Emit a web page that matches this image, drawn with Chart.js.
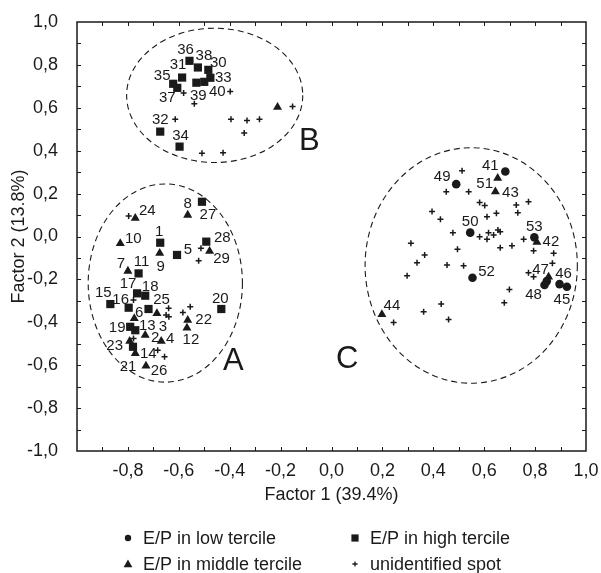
<!DOCTYPE html>
<html>
<head>
<meta charset="utf-8">
<title>Factor analysis</title>
<script src="https://cdn.jsdelivr.net/npm/chart.js@4.4.1/dist/chart.umd.min.js"></script>
<style>
  html, body { margin: 0; padding: 0; background: #fff; }
  canvas { display: block; }
</style>
</head>
<body>
<canvas id="factorChart" width="601" height="573"></canvas>
<script>
// --- data (factor loadings) ---
var lowX   = [0.683, 0.925, 0.896, 0.837, 0.490, 0.545, 0.554, 0.797, 0.846];
var lowY   = [0.303, -0.234, -0.222, -0.226, 0.244, 0.018, -0.192, -0.004, -0.208];
var lowNum = ['41', '45', '46', '48', '49', '50', '52', '53', ''];

var midX   = [-0.732, -0.686, -0.669, -0.775, -0.800, -0.565, -0.675, -0.830, -0.568, -0.771,
              -0.565, -0.793, -0.771, -0.729, -0.479, -0.212, 0.807, 0.644, 0.198, 0.853, 0.653];
var midY   = [-0.460, -0.359, -0.488, -0.382, -0.161, 0.100, -0.078, -0.032, -0.426, -0.545,
              -0.390, -0.488, 0.085, -0.603, -0.068, 0.603, -0.026, 0.209, -0.363, -0.188, 0.272];
var midNum = ['2', '3', '4', '6', '7', '8', '9', '10', '12', '14',
              '22', '23', '24', '26', '29', '', '42', '43', '44', '47', '51'];

var highX   = [-0.673, -0.607, -0.758, -0.771, -0.869, -0.797, -0.764, -0.732, -0.791, -0.433,
               -0.780, -0.719, -0.509, -0.492, -0.484, -0.587, -0.673, -0.476, -0.597, -0.622,
               -0.558, -0.606, -0.525, -0.531, -0.500];
var highY   = [-0.029, -0.086, -0.172, -0.437, -0.315, -0.332, -0.265, -0.276, -0.421, -0.338,
               -0.514, -0.338, 0.162, -0.024, 0.777, 0.741, 0.489, 0.740, 0.419, 0.712,
               0.819, 0.693, 0.788, 0.717, 0.721];
var highNum = ['1', '5', '11', '13', '15', '16', '17', '18', '19', '20',
               '21', '25', '27', '28', '30', '31', '32', '33', '34', '35',
               '36', '37', '38', '39', '40'];

var spotX = [-0.797, -0.513, -0.522, -0.778, -0.640, -0.650, -0.639, -0.555, -0.584, -0.778, -0.683, -0.656,
             -0.581, -0.539, -0.398, -0.614, -0.395, -0.332, -0.283, -0.343, -0.509, -0.426, -0.153,
             0.513, 0.451, 0.539, 0.582, 0.602, 0.726, 0.774, 0.732, 0.395, 0.428,
             0.611, 0.648, 0.477, 0.582, 0.617, 0.611, 0.637, 0.654, 0.663, 0.755,
             0.312, 0.495, 0.663, 0.709, 0.794, 0.873, 0.366, 0.336, 0.454, 0.519,
             0.868, 0.297, 0.774, 0.794, 0.699, 0.679, 0.431, 0.362, 0.460, 0.244];
var spotY = [0.096, -0.055, -0.113, -0.296, -0.335, -0.366, -0.374, -0.328, -0.354, -0.475, -0.530, -0.561,
             0.669, 0.619, 0.676, 0.547, 0.547, 0.541, 0.547, 0.482, 0.388, 0.391, 0.606,
             0.307, 0.209, 0.209, 0.158, 0.144, 0.147, 0.162, 0.111, 0.116, 0.080,
             0.092, 0.108, 0.018, -0.001, 0.018, -0.013, 0.007, 0.030, 0.022, -0.013,
             -0.032, -0.060, -0.052, -0.043, -0.066, -0.078, -0.086, -0.122, -0.133, -0.136,
             -0.125, -0.183, -0.169, -0.188, -0.247, -0.309, -0.315, -0.351, -0.387, -0.401];

var xTicks = ['-0,8', '-0,6', '-0,4', '-0,2', '0,0', '0,2', '0,4', '0,6', '0,8', '1,0'];

// cluster outlines (data units)
var groupNames = ['A', 'B', 'C'];
var groupCX = [-0.653, -0.459, 0.549];
var groupCY = [-0.217, 0.658, -0.135];
var groupRX = [0.303, 0.346, 0.417];
var groupRY = [0.462, 0.313, 0.549];
var groupLabelX = [-0.386, -0.087, 0.062];
var groupLabelY = [-0.577, 0.446, -0.567];

// where each number sits relative to its marker, in pixels
var labelOffsets = {
  '1': [-1, -12], '2': [10, 2], '3': [6, 12], '4': [9, -3], '5': [11, -6],
  '6': [5, -7], '7': [-7, -8], '8': [0, -12], '9': [1, 13], '10': [13, -6],
  '11': [3, -13], '12': [4, 11], '13': [12, -5], '14': [13, -1], '15': [-7, -12],
  '16': [-8, -9], '17': [-9, -10], '18': [5, -10], '19': [-13, 0], '20': [-1, -11],
  '21': [-5, 19], '22': [16, -1], '23': [-15, 4], '24': [12, -8], '25': [13, -10],
  '26': [13, 4], '27': [6, 12], '28': [16, -5], '29': [12, 7],
  '30': [10, -8], '31': [-4, -14], '32': [0, -13], '33': [13, -1], '34': [1, -12],
  '35': [-11, -9], '36': [-4, -12], '37': [-10, 9], '38': [6, -13], '39': [2, 12], '40': [13, 9],
  '41': [-15, -7], '42': [14, -1], '43': [15, 0], '44': [10, -10], '45': [-5, 12],
  '46': [4, -11], '47': [-8, -8], '48': [-11, 9], '49': [-14, -8], '50': [0, -12],
  '51': [-13, 5], '52': [14, -7], '53': [0, -11]
};

var FONT = '"Liberation Sans", Arial, Helvetica, sans-serif';
var INK = '#1a1a1a';

function toPoints(xs, ys) {
  var out = [];
  for (var i = 0; i < xs.length; i++) out.push({ x: xs[i], y: ys[i] });
  return out;
}

function fmt(v) {
  if (Math.abs(v) < 1e-9) v = 0;
  return v.toFixed(1).replace('.', ',');
}

function drawMarker(ctx, style, x, y, r) {
  ctx.beginPath();
  if (style === 'circle') {
    ctx.arc(x, y, r, 0, Math.PI * 2);
    ctx.fill();
  } else if (style === 'rect') {
    ctx.fillRect(x - r, y - r, 2 * r, 2 * r);
  } else if (style === 'triangle') {
    ctx.moveTo(x, y - r);
    ctx.lineTo(x + r * 0.95, y + r * 0.7);
    ctx.lineTo(x - r * 0.95, y + r * 0.7);
    ctx.closePath();
    ctx.fill();
  } else {
    ctx.moveTo(x - r, y); ctx.lineTo(x + r, y);
    ctx.moveTo(x, y - r); ctx.lineTo(x, y + r);
    ctx.stroke();
  }
}

// dashed ellipses + A/B/C letters
var groupPlugin = {
  id: 'groups',
  beforeDatasetsDraw: function(chart) {
    var ctx = chart.ctx, xs = chart.scales.x, ys = chart.scales.y;
    ctx.save();
    ctx.strokeStyle = INK;
    ctx.lineWidth = 1.1;
    ctx.setLineDash([6, 4]);
    for (var i = 0; i < groupNames.length; i++) {
      var cx = xs.getPixelForValue(groupCX[i]);
      var cy = ys.getPixelForValue(groupCY[i]);
      var rx = xs.getPixelForValue(groupCX[i] + groupRX[i]) - cx;
      var ry = ys.getPixelForValue(groupCY[i] - groupRY[i]) - cy;
      ctx.beginPath();
      ctx.ellipse(cx, cy, rx, ry, 0, 0, Math.PI * 2);
      ctx.stroke();
    }
    ctx.setLineDash([]);
    ctx.fillStyle = INK;
    ctx.font = '31px ' + FONT;
    ctx.textAlign = 'center';
    ctx.textBaseline = 'middle';
    for (var j = 0; j < groupNames.length; j++) {
      ctx.fillText(groupNames[j], xs.getPixelForValue(groupLabelX[j]), ys.getPixelForValue(groupLabelY[j]) + 1);
    }
    ctx.restore();
  }
};

// numbers next to the markers
var numberPlugin = {
  id: 'numbers',
  afterDatasetsDraw: function(chart) {
    var ctx = chart.ctx;
    ctx.save();
    ctx.font = '15px ' + FONT;
    ctx.fillStyle = INK;
    ctx.textAlign = 'center';
    ctx.textBaseline = 'middle';
    chart.data.datasets.forEach(function(ds, i) {
      var meta = chart.getDatasetMeta(i);
      (ds.nums || []).forEach(function(n, j) {
        if (!n) return;
        var off = labelOffsets[n] || [10, -8];
        var pt = meta.data[j];
        ctx.fillText(n, pt.x + off[0], pt.y + off[1] + 1);
      });
    });
    ctx.restore();
  }
};

// box with inward ticks every 0.1 + the legend underneath
var framePlugin = {
  id: 'frame',
  afterDraw: function(chart) {
    var a = chart.chartArea, xs = chart.scales.x, ys = chart.scales.y, ctx = chart.ctx;
    ctx.save();
    ctx.strokeStyle = INK;
    ctx.lineWidth = 1;
    ctx.beginPath();
    for (var k = -9; k <= 9; k++) {
      var px = Math.round(xs.getPixelForValue(k / 10)) + 0.5;
      var py = Math.round(ys.getPixelForValue(k / 10)) + 0.5;
      ctx.moveTo(px, a.top); ctx.lineTo(px, a.top + 4);
      ctx.moveTo(px, a.bottom); ctx.lineTo(px, a.bottom - 4);
      ctx.moveTo(a.left, py); ctx.lineTo(a.left + 4, py);
      ctx.moveTo(a.right, py); ctx.lineTo(a.right - 4, py);
    }
    ctx.stroke();
    ctx.lineWidth = 1.5;
    ctx.strokeRect(a.left, a.top, a.right - a.left, a.bottom - a.top);

    var items = [
      ['circle', 3.2, 128, 538, 'E/P in low tercile'],
      ['rect', 3.6, 355, 538, 'E/P in high tercile'],
      ['triangle', 4.6, 128, 564, 'E/P in middle tercile'],
      ['cross', 2.6, 355, 564, 'unidentified spot']
    ];
    ctx.fillStyle = INK;
    ctx.lineWidth = 1.3;
    ctx.font = '18px ' + FONT;
    ctx.textAlign = 'left';
    ctx.textBaseline = 'middle';
    items.forEach(function(it) {
      drawMarker(ctx, it[0], it[2], it[3], it[1]);
      ctx.fillText(it[4], it[2] + 15, it[3] + 1);
    });
    ctx.restore();
  }
};

var ctx = document.getElementById('factorChart').getContext('2d');
var chart = new Chart(ctx, {
  type: 'scatter',
  data: {
    datasets: [
      { label: 'E/P in low tercile', data: toPoints(lowX, lowY), nums: lowNum,
        pointStyle: 'circle', pointRadius: 4.3, backgroundColor: INK, borderColor: INK, borderWidth: 0 },
      { label: 'E/P in middle tercile', data: toPoints(midX, midY), nums: midNum,
        pointStyle: 'triangle', pointRadius: 5.2, backgroundColor: INK, borderColor: INK, borderWidth: 0 },
      { label: 'E/P in high tercile', data: toPoints(highX, highY), nums: highNum,
        pointStyle: 'rect', pointRadius: 5.8, backgroundColor: INK, borderColor: INK, borderWidth: 0 },
      { label: 'unidentified spot', data: toPoints(spotX, spotY),
        pointStyle: 'cross', pointRadius: 3, backgroundColor: INK, borderColor: INK, borderWidth: 1.5 }
    ]
  },
  options: {
    responsive: false,
    animation: false,
    devicePixelRatio: 1,
    events: [],
    layout: { padding: { top: 22, right: 15, left: 0, bottom: 0 } },
    plugins: { legend: { display: false }, tooltip: { enabled: false } },
    scales: {
      x: {
        type: 'linear', min: -1, max: 1,
        grid: { display: false }, border: { display: false },
        ticks: {
          stepSize: 0.2, autoSkip: false, maxRotation: 0, padding: 1,
          color: INK, font: { family: FONT, size: 18 },
          callback: function(v) {
            var s = fmt(v);
            return xTicks.indexOf(s) >= 0 ? s : '';
          }
        },
        title: { display: true, text: 'Factor 1 (39.4%)', color: INK,
                 font: { family: FONT, size: 18 }, padding: { top: 0, bottom: 67 } },
        afterFit: function(s) { s.height = 122; s.paddingLeft = 0; s.paddingRight = 0; }
      },
      y: {
        type: 'linear', min: -1, max: 1,
        grid: { display: false }, border: { display: false },
        ticks: {
          stepSize: 0.2, autoSkip: false, padding: 11,
          color: INK, font: { family: FONT, size: 18 },
          callback: function(v) { return fmt(v); }
        },
        title: { display: true, text: 'Factor 2 (13.8%)', color: INK,
                 font: { family: FONT, size: 18 }, padding: { top: 8, bottom: 0 } },
        afterFit: function(s) { s.width = 77; s.paddingTop = 0; s.paddingBottom = 0; }
      }
    }
  },
  plugins: [groupPlugin, numberPlugin, framePlugin]
});
</script>
</body>
</html>
